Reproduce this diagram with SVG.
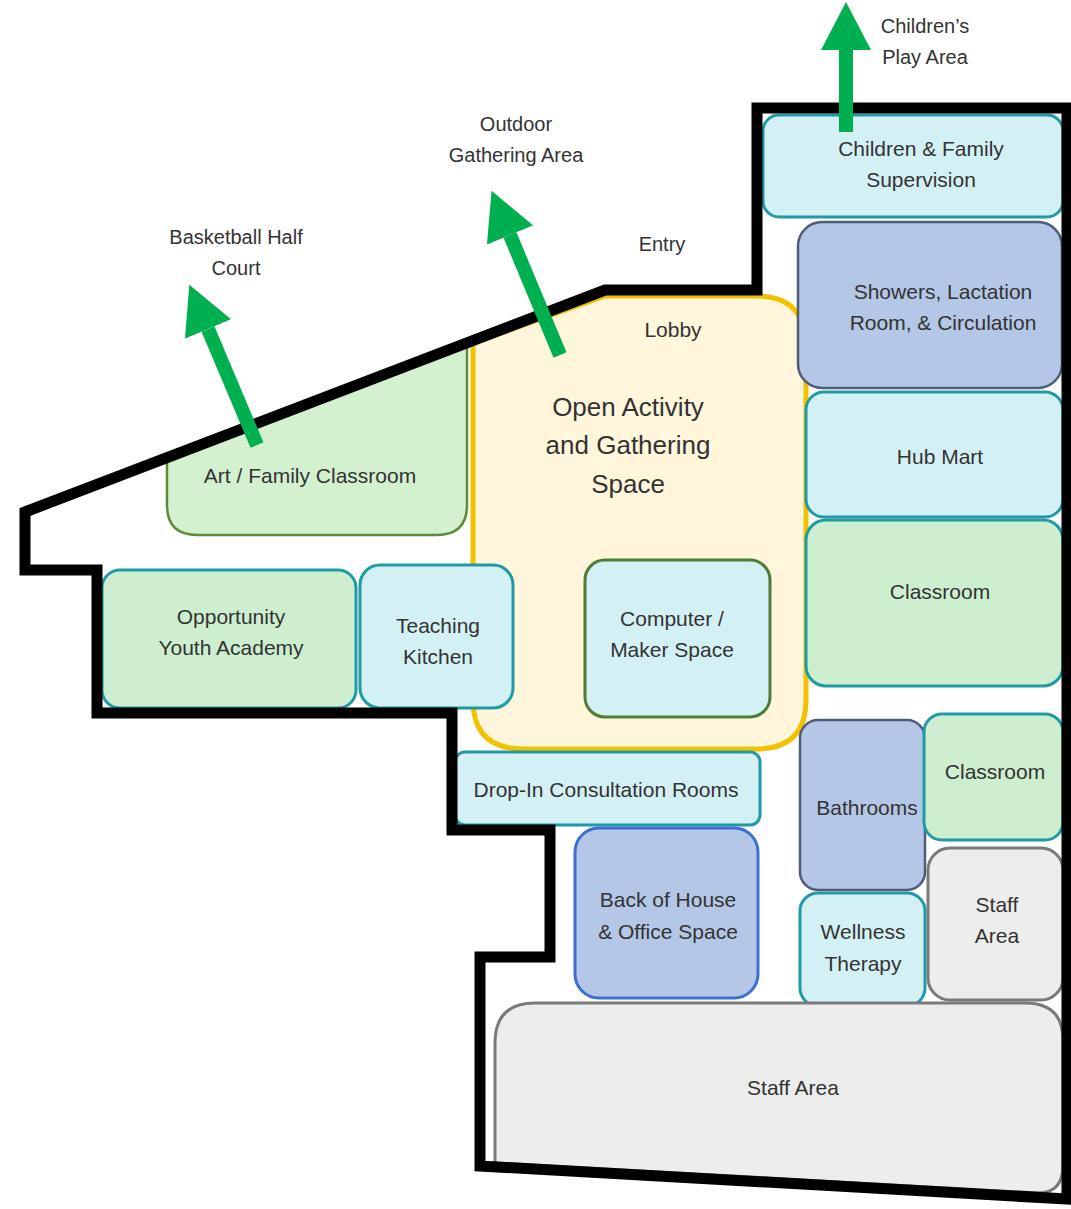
<svg xmlns="http://www.w3.org/2000/svg" width="1071" height="1209" viewBox="0 0 1071 1209">
<defs>
<style>
text{font-family:"Liberation Sans",Arial,sans-serif;font-size:21px;fill:#333;text-anchor:middle}
.cyan{fill:#d3f1f5;stroke:#1f9aa6;stroke-width:3}
.green{fill:#cdeecf;stroke:#1f9aa6;stroke-width:3}
.greenD{fill:#d3f0cf;stroke:#5d8a3c;stroke-width:2.5}
.blue{fill:#b4c7e7;stroke:#4f5d78;stroke-width:2.5}
.blueB{fill:#b4c7e7;stroke:#3f6fd0;stroke-width:3}
.grey{fill:#ededed;stroke:#7a7a7a;stroke-width:3}
.arrow{stroke:#00b050;stroke-width:14;fill:none}
</style>
<marker id="ah" markerUnits="userSpaceOnUse" markerWidth="50" markerHeight="50" refX="0" refY="24" orient="auto" viewBox="0 0 48 48">
<path d="M0,0 L46,24 L0,48 Z" fill="#00b050"/>
</marker>
</defs>
<rect width="1071" height="1209" fill="#fff"/>

<g id="lobby">
<path d="M473,343 L605,296 L756,296 Q806,296 806,346 L806,700 Q806,749 756,749 L523,749 Q473,749 473,700 Z" fill="#fff6dc" stroke="#f2c200" stroke-width="5"/>
<text x="673" y="337">Lobby</text>
<text x="628" y="416" style="font-size:26px">Open Activity</text>
<text x="628" y="454" style="font-size:26px">and Gathering</text>
<text x="628" y="493" style="font-size:26px">Space</text>
</g>
<g id="computer">
<rect x="585" y="560" width="185" height="157" rx="20" class="cyan" style="stroke:#4f7d35"/>
<text x="672" y="626">Computer /</text>
<text x="672" y="657">Maker Space</text>
</g>
<g id="art">
<path d="M167,457 L467,343 L467,505 Q467,535 437,535 L197,535 Q167,535 167,505 Z" class="greenD"/>
<text x="310" y="483">Art / Family Classroom</text>
</g>
<g id="oya">
<rect x="102" y="570" width="254" height="138" rx="18" class="green"/>
<text x="231" y="624">Opportunity</text>
<text x="231" y="655">Youth Academy</text>
</g>
<g id="kitchen">
<rect x="360" y="565" width="153" height="143" rx="20" class="cyan"/>
<text x="438" y="633">Teaching</text>
<text x="438" y="664">Kitchen</text>
</g>
<g id="dropin">
<rect x="455" y="752" width="305" height="73" rx="10" class="cyan"/>
<text x="606" y="797">Drop-In Consultation Rooms</text>
</g>
<g id="boh">
<rect x="575" y="828" width="183" height="170" rx="24" class="blueB"/>
<text x="668" y="907">Back of House</text>
<text x="668" y="939">&amp; Office Space</text>
</g>
<g id="cfs">
<rect x="763" y="115" width="300" height="102" rx="16" class="cyan"/>
<text x="921" y="156">Children &amp; Family</text>
<text x="921" y="187">Supervision</text>
</g>
<g id="showers">
<rect x="798" y="222" width="264" height="166" rx="24" class="blue"/>
<text x="943" y="299">Showers, Lactation</text>
<text x="943" y="330">Room, &amp; Circulation</text>
</g>
<g id="hubmart">
<rect x="806" y="392" width="257" height="125" rx="18" class="cyan"/>
<text x="940" y="464">Hub Mart</text>
</g>
<g id="classroom1">
<rect x="806" y="520" width="257" height="166" rx="20" class="green"/>
<text x="940" y="599">Classroom</text>
</g>
<g id="bathrooms">
<rect x="800" y="720" width="125" height="170" rx="18" class="blue"/>
<text x="867" y="815">Bathrooms</text>
</g>
<g id="classroom2">
<rect x="924" y="714" width="139" height="126" rx="18" class="green"/>
<text x="995" y="779">Classroom</text>
</g>
<g id="staff1">
<rect x="928" y="848" width="135" height="152" rx="22" class="grey"/>
<text x="997" y="912">Staff</text>
<text x="997" y="943">Area</text>
</g>
<g id="wellness">
<rect x="800" y="893" width="125" height="113" rx="18" class="cyan"/>
<text x="863" y="939">Wellness</text>
<text x="863" y="971">Therapy</text>
</g>
<g id="staff2">
<path d="M535,1003 L1025,1003 Q1063,1003 1063,1040 L1063,1165 Q1063,1193 1038,1193 L495,1163 L495,1043 Q495,1003 535,1003 Z" class="grey"/>
<text x="793" y="1095">Staff Area</text>
</g>

<g id="walls">
<path d="M25,512 L605,290 L757,290 L757,108 L1067,108 L1067,1199 L480,1166 L480,957 L550,957 L550,830 L452,830 L452,713 L97,713 L97,570 L25,570 Z" fill="none" stroke="#000" stroke-width="11" stroke-linejoin="miter"/>
</g>

<g id="labels">
<text x="925" y="33" style="font-size:20px">Children’s</text>
<text x="925" y="64" style="font-size:20px">Play Area</text>
<text x="516" y="131" style="font-size:20px">Outdoor</text>
<text x="516" y="162" style="font-size:20px">Gathering Area</text>
<text x="236" y="244" style="font-size:20px">Basketball Half</text>
<text x="236" y="275" style="font-size:20px">Court</text>
<text x="662" y="251" style="font-size:20px">Entry</text>
</g>

<g id="connectors">
<line x1="257" y1="445" x2="208" y2="329" class="arrow" marker-end="url(#ah)"/>
<line x1="560" y1="355" x2="510" y2="235" class="arrow" marker-end="url(#ah)"/>
<line x1="846" y1="132" x2="846" y2="50" class="arrow" marker-end="url(#ah)"/>
</g>
</svg>
